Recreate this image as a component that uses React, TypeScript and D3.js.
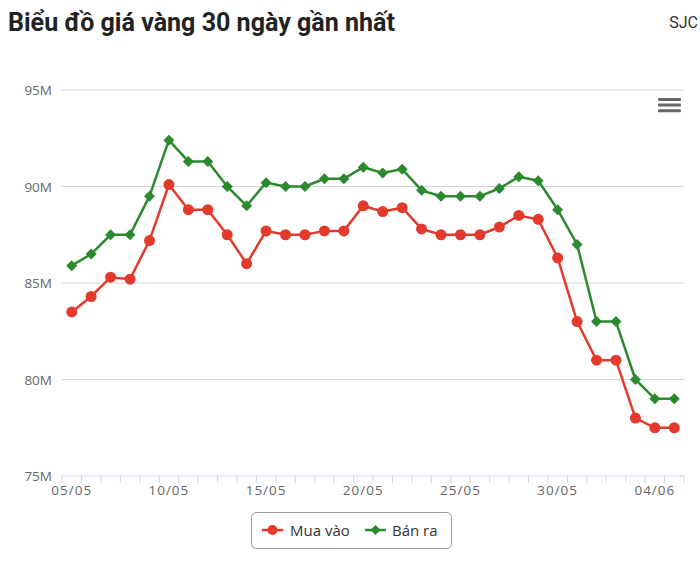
import React from 'react';
import * as d3 from 'd3';

// Ngày (05/05 -> 05/06)
const dates = [
  '05/05', '06/05', '07/05', '08/05', '09/05', '10/05', '11/05', '12/05',
  '13/05', '14/05', '15/05', '16/05', '17/05', '18/05', '19/05', '20/05',
  '21/05', '22/05', '23/05', '24/05', '25/05', '26/05', '27/05', '28/05',
  '29/05', '30/05', '31/05', '01/06', '02/06', '03/06', '04/06', '05/06',
];

// Giá mua vào (triệu đồng)
const muaVao = [
  83.5, 84.3, 85.3, 85.2, 87.2, 90.1, 88.8, 88.8, 87.5, 86.0, 87.7, 87.5,
  87.5, 87.7, 87.7, 89.0, 88.7, 88.9, 87.8, 87.5, 87.5, 87.5, 87.9, 88.5,
  88.3, 86.3, 83.0, 81.0, 81.0, 78.0, 77.5, 77.5,
];

// Giá bán ra (triệu đồng)
const banRa = [
  85.9, 86.5, 87.5, 87.5, 89.5, 92.4, 91.3, 91.3, 90.0, 89.0, 90.2, 90.0,
  90.0, 90.4, 90.4, 91.0, 90.7, 90.9, 89.8, 89.5, 89.5, 89.5, 89.9, 90.5,
  90.3, 88.8, 87.0, 83.0, 83.0, 80.0, 79.0, 79.0,
];

const yTicks = [75, 80, 85, 90, 95];
const xLabelEvery = 5;

const RED = '#e4392d';
const GREEN = '#2b8a2e';

const W = 700;
const H = 585;
const plot = { left: 62, right: 684, top: 90, bottom: 476 };

const x = d3.scalePoint<string>().domain(dates).range([plot.left, plot.right]).padding(0.5);
const band = d3.scaleBand<string>().domain(dates).range([plot.left, plot.right]);
const y = d3.scaleLinear().domain([75, 95]).range([plot.bottom, plot.top]);

const diamond = (cx: number, cy: number, r: number) =>
  `M${cx},${cy - r}L${cx + r},${cy}L${cx},${cy + r}L${cx - r},${cy}Z`;

const App: React.FC = () => {
  const line = d3
    .line<number>()
    .x((_, i) => x(dates[i]) as number)
    .y((d) => y(d));

  const boundaries = [...dates.map((d) => band(d) as number), plot.right];
  const font = '"Open Sans", "DejaVu Sans", sans-serif';

  return (
    <div style={{ position: 'absolute', left: 0, top: 0 }}>
      <svg width={W} height={H} style={{ display: 'block', background: '#fff' }}>
        {/* Tiêu đề */}
        <text
          x={8}
          y={31}
          fontFamily="Roboto, sans-serif"
          fontWeight={700}
          fontSize={25}
          fill="#222"
          textLength={387}
          lengthAdjust="spacingAndGlyphs"
        >
          Biểu đồ giá vàng 30 ngày gần nhất
        </text>
        <text x={698} y={28} textAnchor="end" fontFamily="Roboto, sans-serif" fontSize={16} fill="#333">
          SJC
        </text>

        {/* Menu icon */}
        {[0, 1, 2].map((i) => (
          <rect key={i} x={658} y={98 + i * 5.6} width={23} height={3} rx={1} fill="#666" />
        ))}

        {/* Lưới */}
        {yTicks.map((t) => (
          <g key={t}>
            {t !== 75 && (
              <line x1={plot.left} x2={plot.right} y1={y(t)} y2={y(t)} stroke="#d6d6d6" strokeWidth={1} />
            )}
            <text x={52} y={y(t) + 5} textAnchor="end" fontFamily={font} fontSize={13.5} fill="#666">
              {t}M
            </text>
          </g>
        ))}

        {/* Trục x */}
        <line x1={plot.left} x2={plot.right} y1={plot.bottom} y2={plot.bottom} stroke="#ccd6eb" strokeWidth={1} />
        {boundaries.map((b, i) => (
          <line key={i} x1={b} x2={b} y1={plot.bottom} y2={plot.bottom + 7} stroke="#ccd6eb" strokeWidth={1} />
        ))}
        {dates.map((d, i) =>
          i % xLabelEvery === 0 ? (
            <text
              key={d}
              x={x(d)}
              y={495}
              textAnchor="middle"
              fontFamily={font}
              fontSize={13.5}
              letterSpacing={1}
              fill="#666"
            >
              {d}
            </text>
          ) : null
        )}

        {/* Đường */}
        <path d={line(muaVao) || ''} fill="none" stroke={RED} strokeWidth={2.5} />
        <path d={line(banRa) || ''} fill="none" stroke={GREEN} strokeWidth={2.5} />
        {muaVao.map((v, i) => (
          <circle key={`m${i}`} cx={x(dates[i])} cy={y(v)} r={5.5} fill={RED} />
        ))}
        {banRa.map((v, i) => (
          <path key={`b${i}`} d={diamond(x(dates[i]) as number, y(v), 5.5)} fill={GREEN} />
        ))}

        {/* Chú thích */}
        <rect x={251.5} y={512.5} width={200} height={36} rx={5} fill="#fff" stroke="#999" strokeWidth={1} />
        <line x1={262} x2={283} y1={530} y2={530} stroke={RED} strokeWidth={2.5} />
        <circle cx={272.5} cy={530} r={5} fill={RED} />
        <text x={290} y={535.5} fontFamily={font} fontSize={15} fill="#333">
          Mua vào
        </text>
        <line x1={365} x2={386} y1={530} y2={530} stroke={GREEN} strokeWidth={2.5} />
        <path d={diamond(375.5, 530, 5)} fill={GREEN} />
        <text x={392} y={535.5} fontFamily={font} fontSize={15} fill="#333">
          Bán ra
        </text>
      </svg>
    </div>
  );
};

export default App;
